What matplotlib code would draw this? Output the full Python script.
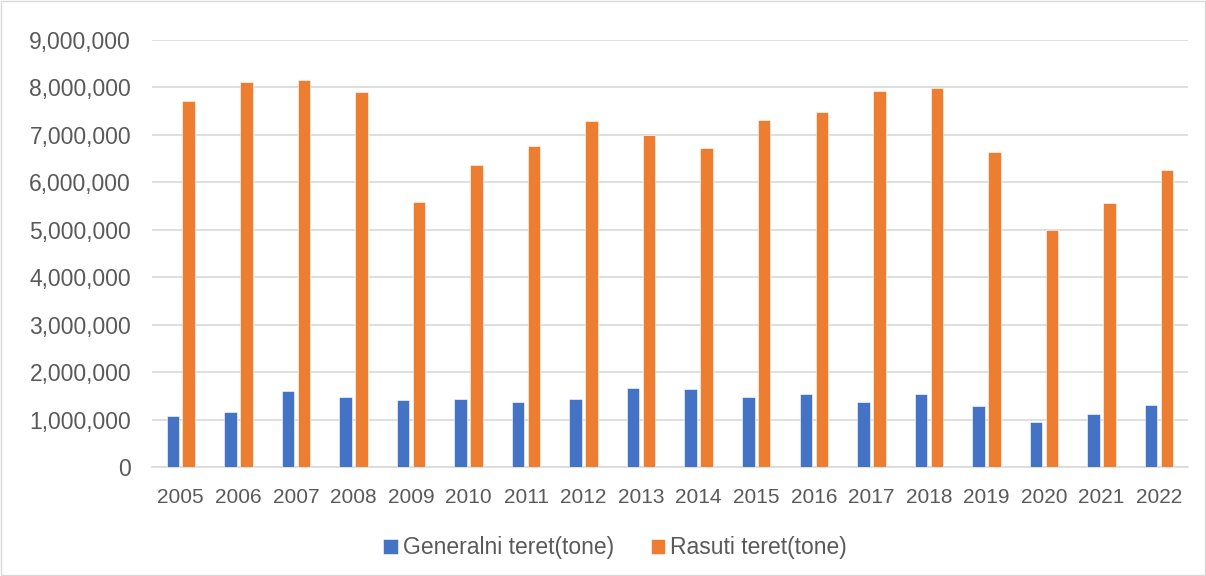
import numpy as np
import matplotlib.pyplot as plt
from matplotlib.ticker import FuncFormatter

plt.rcParams['font.family'] = ['Liberation Sans', 'DejaVu Sans']

years = [str(y) for y in range(2005, 2023)]
generalni = [1075000, 1170000, 1600000, 1470000, 1410000, 1440000, 1380000, 1440000, 1660000,
             1640000, 1470000, 1530000, 1370000, 1530000, 1280000, 940000, 1120000, 1310000]
rasuti = [7710000, 8120000, 8150000, 7900000, 5580000, 6360000, 6770000, 7280000, 7000000,
          6730000, 7300000, 7470000, 7930000, 7990000, 6630000, 4990000, 5570000, 6250000]

blue = "#4472C4"
orange = "#ED7D31"
text_col = "#595959"
grid_col = "#D9D9D9"

fig = plt.figure(figsize=(12.06, 5.76), dpi=100)
ax = fig.add_axes([0.126, 0.189, 0.859, 0.742])

x = np.arange(len(years))
w = 0.217
gap = 0.06
ax.bar(x - (w + gap) / 2, generalni, w, color=blue, edgecolor="white", linewidth=0.4,
       label="Generalni teret(tone)", zorder=3)
ax.bar(x + (w + gap) / 2, rasuti, w, color=orange, edgecolor="white", linewidth=0.4,
       label="Rasuti teret(tone)", zorder=3)

ax.set_xlim(-0.5, len(years) - 0.5)
ax.set_ylim(0, 9000000)
ax.set_yticks(np.arange(0, 9000001, 1000000))
ax.yaxis.set_major_formatter(FuncFormatter(lambda v, p: f"{int(v):,}"))
ax.set_xticks(x)
ax.set_xticklabels(years)

ax.grid(axis="y", color=grid_col, linewidth=1.2, zorder=0)
for s in ["top", "right", "left"]:
    ax.spines[s].set_visible(False)
ax.spines["bottom"].set_color(grid_col)
ax.spines["bottom"].set_linewidth(1.2)
ax.tick_params(axis="both", length=0, colors=text_col)
ax.tick_params(axis="y", labelsize=16.5, pad=15)
ax.tick_params(axis="x", labelsize=15, pad=15)

leg = fig.legend(loc="center", bbox_to_anchor=(0.51, 0.049), ncol=2, frameon=False,
                 fontsize=16.5, handlelength=0.65, handleheight=0.65, handletextpad=0.2,
                 columnspacing=1.6)
for t in leg.get_texts():
    t.set_color(text_col)

# light border round the chart area
fig.patches.append(plt.Rectangle((0.001, 0.002), 0.998, 0.996, transform=fig.transFigure,
                                 fill=False, edgecolor=grid_col, linewidth=1))

fig.savefig("out.png", dpi=100)
